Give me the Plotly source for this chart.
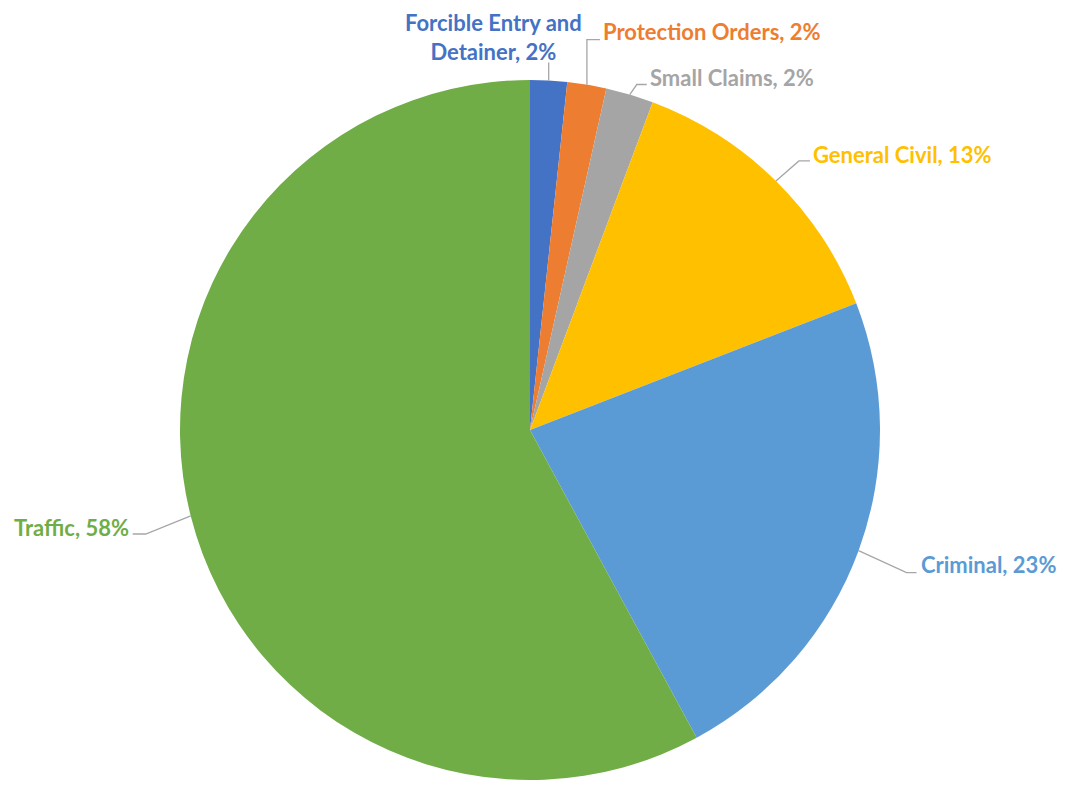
import math
import plotly.graph_objects as go

# ---- data ----
categories = ["Forcible Entry and Detainer", "Protection Orders", "Small Claims",
              "General Civil", "Criminal", "Traffic"]
values = [1.7, 1.8, 2.2, 13.4, 23.0, 57.9]
colors = ["#4472C4", "#ED7D31", "#A5A5A5", "#FFC000", "#5B9BD5", "#70AD47"]
label_text = ["Forcible Entry and<br>Detainer", "Protection Orders", "Small Claims",
              "General Civil", "Criminal", "Traffic"]

# ---- layout geometry (page pixels; figure sits at body margin 8px) ----
OFF = 8
W, H = 1065 - 2 * OFF, 788 - 2 * OFF
CX, CY, R = 530, 430, 350

def px(x):
    return (x - OFF) / W

def py(y):
    return 1 - (y - OFF) / H

styles = [
    dict(pts=[(0, -18)], lab=(-55, -72), xanchor="center", yanchor="top"),
    dict(pts=[(0, -45), (13, -45)], lab=(15, -53), xanchor="left", yanchor="middle"),
    dict(pts=[(7, -10), (17, -10)], lab=(19, -17), xanchor="left", yanchor="middle"),
    dict(pts=[(23, -20), (34, -20)], lab=(36, -26), xanchor="left", yanchor="middle"),
    dict(pts=[(48, 22), (58, 22)], lab=(61, 14), xanchor="left", yanchor="middle"),
    dict(pts=[(-45, 18), (-58, 18)], lab=(-61, 12), xanchor="right", yanchor="middle"),
]

total = sum(values)
fig = go.Figure(go.Pie(
    labels=categories,
    values=values,
    sort=False,
    direction="clockwise",
    rotation=0,
    marker=dict(colors=colors, line=dict(width=0)),
    textinfo="none",
    hoverinfo="label+percent",
    showlegend=False,
    domain=dict(x=[px(CX - R), px(CX + R)], y=[py(CY + R), py(CY - R)]),
))

annotations = []
shapes = []
cum = 0.0
for name, v, c, st in zip(label_text, values, colors, styles):
    mid = (cum + v / 2) / total * 2 * math.pi
    cum += v
    ex = CX + R * math.sin(mid)
    ey = CY - R * math.cos(mid)
    pts = [(ex, ey)] + [(ex + dx, ey + dy) for dx, dy in st["pts"]]
    path = "M " + " L ".join(f"{px(x):.5f},{py(y):.5f}" for x, y in pts)
    shapes.append(dict(type="path", path=path, xref="paper", yref="paper",
                       line=dict(color="#A6A6A6", width=1.3)))
    lx, ly = ex + st["lab"][0], ey + st["lab"][1]
    pct = round(v / total * 100)
    annotations.append(dict(
        x=px(lx), y=py(ly), xref="paper", yref="paper",
        text=f"<b>{name}, {pct}%</b>", showarrow=False,
        xanchor=st["xanchor"], yanchor=st["yanchor"], align="center",
        borderpad=0,
        font=dict(family="Lato", size=22, color=c),
    ))

fig.update_layout(
    width=W, height=H,
    margin=dict(l=0, r=0, t=0, b=0),
    paper_bgcolor="white", plot_bgcolor="white",
    annotations=annotations, shapes=shapes,
)

fig.write_html("out.html")
